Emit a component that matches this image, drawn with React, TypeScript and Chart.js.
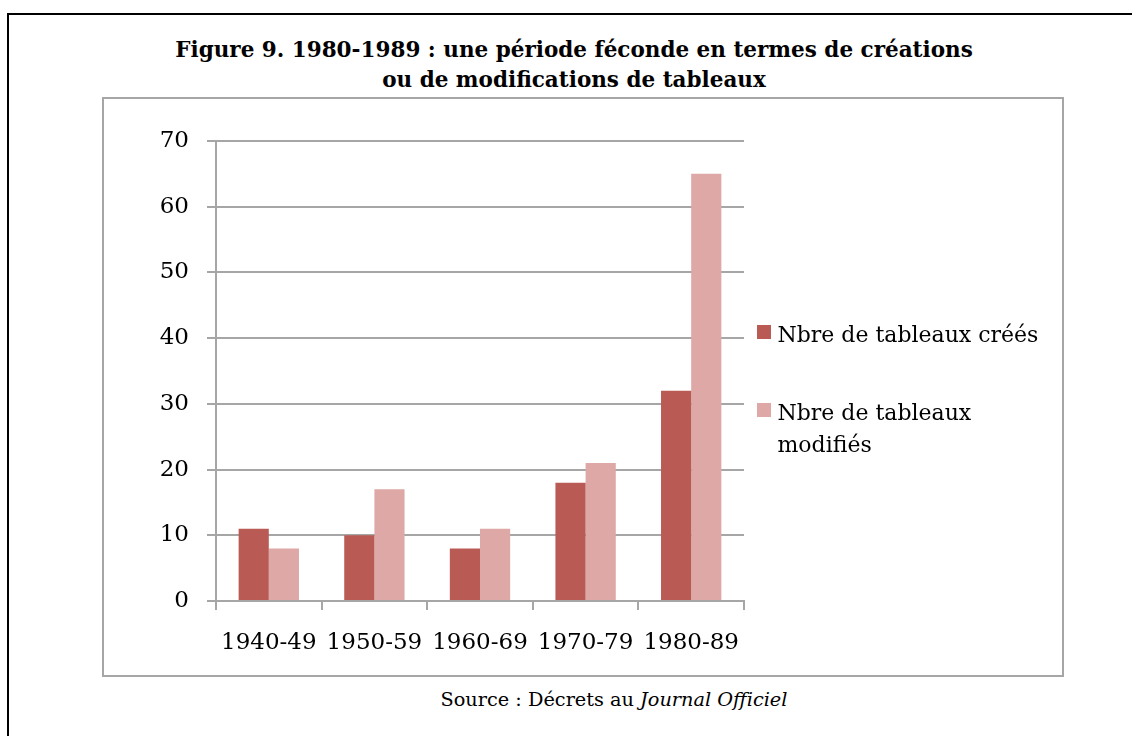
import React, { useEffect, useRef } from "react";
import { Chart, registerables } from "chart.js";

Chart.register(...registerables);

const categories = ["1940-49", "1950-59", "1960-69", "1970-79", "1980-89"];
const createdValues = [11, 10, 8, 18, 32];
const modifiedValues = [8, 17, 11, 21, 65];
const seriesLabels = ["Nbre de tableaux créés", "Nbre de tableaux modifiés"];
const legendLines = [["Nbre de tableaux créés"], ["Nbre de tableaux", "modifiés"]];
const yTickValues = [0, 10, 20, 30, 40, 50, 60, 70];
const titleLines = [
  "Figure 9. 1980-1989 : une période féconde en termes de créations",
  "ou de modifications de tableaux",
];
const sourcePlain = "Source : Décrets au ";
const sourceItalic = "Journal Officiel";

const DARK = "#B95B54";
const LIGHT = "#DDA8A5";
const GRID = "#A6A6A6";
const FONT = "'DejaVu Serif', serif";

const sideLegend = {
  id: "sideLegend",
  afterDraw(chart: any) {
    const ctx = chart.ctx;
    const x0 = chart.chartArea.right + 13;
    let top = chart.height / 2 - 62;
    const lineH = 32;
    ctx.save();
    ctx.font = "22px " + FONT;
    ctx.textBaseline = "alphabetic";
    ctx.textAlign = "left";
    chart.data.datasets.forEach((ds: any, i: number) => {
      ctx.fillStyle = ds.backgroundColor;
      ctx.fillRect(x0, top, 14, 14);
      ctx.fillStyle = "#000";
      const lines = legendLines[i];
      lines.forEach((ln, j) => {
        ctx.fillText(ln, x0 + 20.5, top + 16.7 + j * lineH);
      });
      top += lines.length * lineH + 46;
    });
    ctx.restore();
  },
};

function BarChart() {
  const ref = useRef<HTMLCanvasElement | null>(null);
  useEffect(() => {
    if (!ref.current) return;
    const chart = new Chart(ref.current, {
      type: "bar",
      data: {
        labels: categories,
        datasets: [
          {
            label: seriesLabels[0],
            data: createdValues,
            backgroundColor: DARK,
            categoryPercentage: 0.5714,
            barPercentage: 1,
          },
          {
            label: seriesLabels[1],
            data: modifiedValues,
            backgroundColor: LIGHT,
            categoryPercentage: 0.5714,
            barPercentage: 1,
          },
        ],
      },
      options: {
        responsive: false,
        animation: false,
        events: [],
        layout: { padding: { left: 0, top: 43, right: 319, bottom: 15 } },
        plugins: {
          legend: { display: false },
          title: { display: false },
          tooltip: { enabled: false },
        },
        scales: {
          x: {
            grid: {
              display: true,
              drawOnChartArea: false,
              drawTicks: true,
              tickLength: 9,
              color: GRID,
              lineWidth: 2,
              offset: true,
            },
            border: { display: true, color: GRID, width: 2 },
            ticks: {
              color: "#000",
              font: { family: FONT, size: 23 },
              padding: 19,
              maxRotation: 0,
              autoSkip: false,
            },
            afterFit: (s: any) => {
              s.height = 60;
            },
          },
          y: {
            min: 0,
            max: 70,
            afterBuildTicks: (s: any) => {
              s.ticks = yTickValues.map((v) => ({ value: v }));
            },
            grid: { color: GRID, lineWidth: 2, tickLength: 9 },
            border: { display: true, color: GRID, width: 2 },
            ticks: {
              color: "#000",
              font: { family: FONT, size: 23 },
              padding: 18,
            },
            afterFit: (s: any) => {
              s.width = 113;
            },
          },
        },
      },
      plugins: [sideLegend],
    } as any);
    return () => chart.destroy();
  }, []);
  return (
    <canvas
      ref={ref}
      width={960}
      height={578}
      style={{ position: "absolute", left: 103, top: 98, width: 960, height: 578, display: "block" }}
    />
  );
}

export default function App() {
  return (
    <div
      style={{
        position: "fixed",
        left: 0,
        top: 0,
        width: 1132,
        height: 736,
        overflow: "hidden",
        background: "#fff",
        fontFamily: FONT,
      }}
    >
      <div
        style={{
          position: "absolute",
          left: 7,
          top: 13,
          width: 1300,
          height: 900,
          borderLeft: "2px solid #000",
          borderTop: "2px solid #000",
        }}
      />
      <div
        style={{
          position: "absolute",
          left: 74,
          top: 35,
          width: 1000,
          textAlign: "center",
          fontWeight: "bold",
          fontSize: 21.5,
          lineHeight: "30px",
          color: "#000",
          whiteSpace: "nowrap",
        }}
      >
        {titleLines.map((t, i) => (
          <div key={i}>{t}</div>
        ))}
      </div>
      <BarChart />
      <div
        style={{
          position: "absolute",
          left: 102,
          top: 97,
          width: 962,
          height: 580,
          boxSizing: "border-box",
          border: "2px solid " + GRID,
          pointerEvents: "none",
        }}
      />
      <div
        style={{
          position: "absolute",
          left: 114,
          top: 690,
          width: 1000,
          textAlign: "center",
          fontSize: 19.3,
          lineHeight: "20px",
          color: "#000",
          whiteSpace: "nowrap",
        }}
      >
        {sourcePlain}
        <i>{sourceItalic}</i>
      </div>
    </div>
  );
}
